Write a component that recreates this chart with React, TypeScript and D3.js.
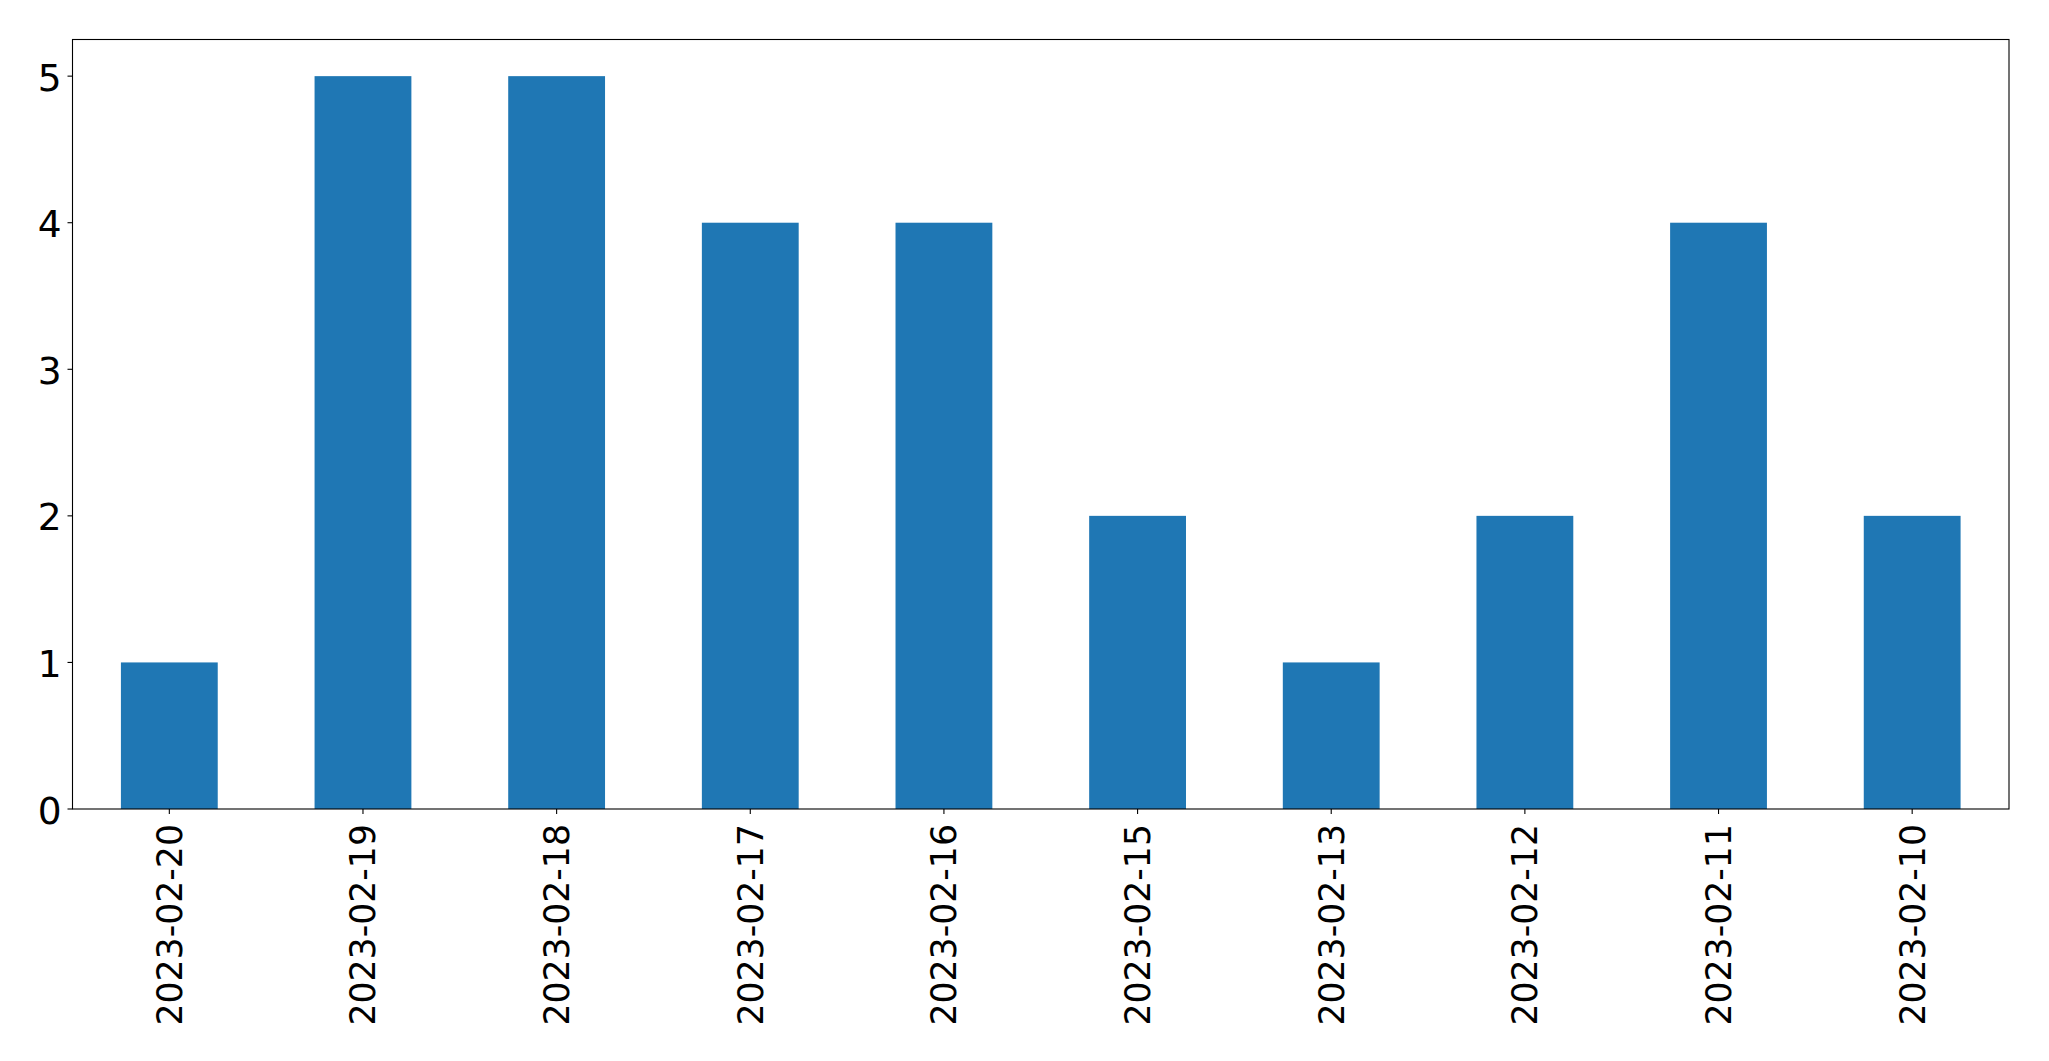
import { scaleBand, scaleLinear } from "d3";

const dates = [
  "2023-02-20",
  "2023-02-19",
  "2023-02-18",
  "2023-02-17",
  "2023-02-16",
  "2023-02-15",
  "2023-02-13",
  "2023-02-12",
  "2023-02-11",
  "2023-02-10",
];
const counts = [1, 5, 5, 4, 4, 2, 1, 2, 4, 2];
const yTicks = [0, 1, 2, 3, 4, 5];

export default function App() {
  const width = 2049;
  const height = 1061;
  const left = 72.5;
  const right = 2009;
  const top = 39.5;
  const bottom = 809;

  const x = scaleBand<string>().domain(dates).range([left, right]).paddingInner(0.5).paddingOuter(0.25);
  const y = scaleLinear()
    .domain([0, Math.max(...counts) * 1.05])
    .range([bottom, top]);

  return (
    <div style={{ position: "absolute", left: 0, top: 0 }}>
      <svg width={width} height={height} style={{ display: "block", background: "#fff" }}>
        <g fontFamily="DejaVu Sans" fill="#000">
          {dates.map((d, i) => (
            <rect
              key={d}
              x={x(d)}
              y={y(counts[i])}
              width={x.bandwidth()}
              height={bottom - y(counts[i])}
              fill="#1f77b4"
            />
          ))}
          <rect x={left} y={top} width={right - left} height={bottom - top} fill="none" stroke="#000" strokeWidth={1.1} />
          {yTicks.map((t) => (
            <g key={t}>
              <line x1={left - 5} x2={left} y1={y(t)} y2={y(t)} stroke="#000" strokeWidth={1.1} />
              <text x={left - 11} y={y(t) + 14.5} textAnchor="end" fontSize={37.5}>
                {t}
              </text>
            </g>
          ))}
          {dates.map((d) => {
            const cx = (x(d) ?? 0) + x.bandwidth() / 2;
            return (
              <g key={d}>
                <line x1={cx} x2={cx} y1={bottom} y2={bottom + 5} stroke="#000" strokeWidth={1.1} />
                <text
                  transform={`translate(${cx + 12.5},${bottom + 15}) rotate(-90)`}
                  textAnchor="end"
                  fontSize={34.7}
                >
                  {d}
                </text>
              </g>
            );
          })}
        </g>
      </svg>
    </div>
  );
}
